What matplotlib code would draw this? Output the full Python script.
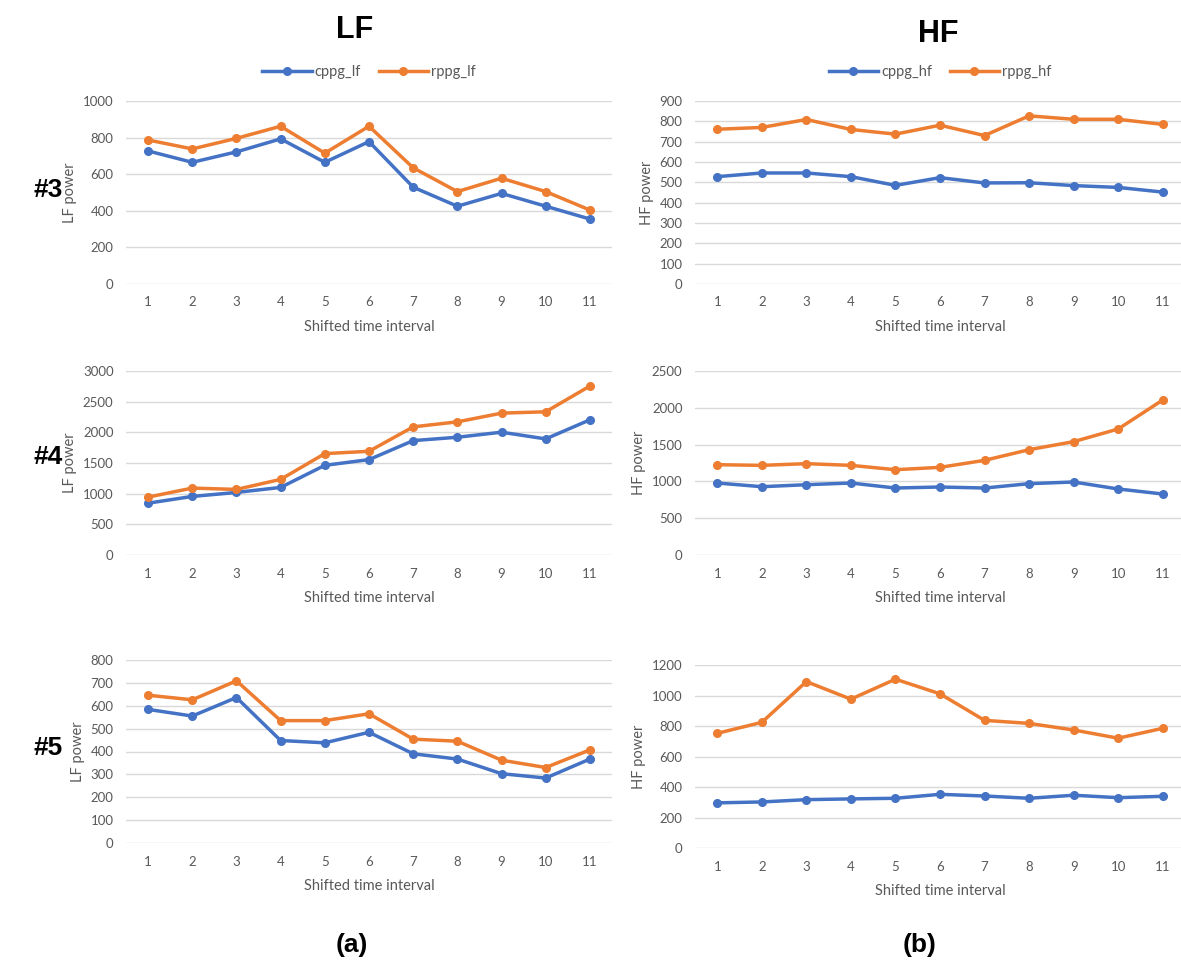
import matplotlib
matplotlib.use("Agg")
import matplotlib.pyplot as plt

# shifted time interval index
intervals = list(range(1, 12))

# subject #3
cppg_lf_3 = [727, 665, 722, 793, 665, 778, 529, 425, 495, 425, 355]
rppg_lf_3 = [787, 738, 796, 862, 715, 862, 635, 505, 578, 505, 404]
cppg_hf_3 = [528, 546, 546, 528, 485, 523, 497, 498, 484, 475, 452]
rppg_hf_3 = [761, 770, 809, 760, 737, 781, 730, 827, 810, 810, 785]

# subject #4
cppg_lf_4 = [845, 955, 1020, 1102, 1462, 1555, 1865, 1920, 2002, 1893, 2204]
rppg_lf_4 = [944, 1091, 1069, 1233, 1653, 1691, 2089, 2171, 2313, 2335, 2755]
cppg_hf_4 = [978, 928, 955, 978, 910, 924, 910, 969, 992, 897, 829]
rppg_hf_4 = [1227, 1218, 1241, 1218, 1159, 1191, 1286, 1431, 1540, 1712, 2106]

# subject #5
cppg_lf_5 = [584, 555, 636, 448, 438, 484, 390, 367, 303, 284, 367]
rppg_lf_5 = [646, 626, 709, 535, 535, 565, 454, 445, 362, 330, 407]
cppg_hf_5 = [296, 302, 317, 322, 326, 352, 341, 326, 346, 330, 339]
rppg_hf_5 = [752, 824, 1091, 976, 1107, 1011, 837, 817, 774, 720, 785]

BLUE = "#4472C4"
ORANGE = "#ED7D31"
W, H = 1181, 972

plt.rcParams['font.family'] = ['Lato', 'DejaVu Sans']

fig = plt.figure(figsize=(W / 100, H / 100), dpi=100)


def px_axes(x0, y_top, x1, y_bot):
    # axes from pixel box (origin top-left)
    return fig.add_axes([x0 / W, 1 - y_bot / H, (x1 - x0) / W, (y_bot - y_top) / H])


def panel(ax, cppg, rppg, ymax, step, ylabel, names=None):
    l1, = ax.plot(intervals, cppg, color=BLUE, lw=2.5, marker='o', ms=5.5)
    l2, = ax.plot(intervals, rppg, color=ORANGE, lw=2.5, marker='o', ms=5.5)
    ax.set_xlim(0.5, 11.5)
    ax.set_ylim(0, ymax)
    ax.set_xticks(intervals)
    ax.set_yticks(range(0, ymax + 1, step))
    ax.grid(axis='y', color='#D9D9D9', lw=1)
    ax.set_axisbelow(True)
    for s in ax.spines.values():
        s.set_visible(False)
    ax.tick_params(length=0, labelsize=9.5, colors='#595959', pad=9)
    ax.set_xlabel("Shifted time interval", fontsize=10.5, color='#595959', labelpad=8)
    ax.set_ylabel(ylabel, fontsize=10.5, color='#595959', labelpad=4)
    for l in (l1, l2):
        l.set_clip_on(False)
    if names:
        ax.legend([l1, l2], names, loc='lower center', bbox_to_anchor=(0.5, 1.05),
                  ncol=2, frameon=False, fontsize=10.5, handlelength=3.4,
                  columnspacing=1.2, handletextpad=0.2, labelcolor='#595959')


ax = px_axes(126, 101, 612, 284)
panel(ax, cppg_lf_3, rppg_lf_3, 1000, 200, "LF power", ["cppg_lf", "rppg_lf"])
ax = px_axes(695, 101, 1185, 284)
panel(ax, cppg_hf_3, rppg_hf_3, 900, 100, "HF power", ["cppg_hf", "rppg_hf"])

ax = px_axes(126, 371, 612, 555)
panel(ax, cppg_lf_4, rppg_lf_4, 3000, 500, "LF power")
ax = px_axes(695, 371, 1185, 555)
panel(ax, cppg_hf_4, rppg_hf_4, 2500, 500, "HF power")

ax = px_axes(126, 660, 612, 843)
panel(ax, cppg_lf_5, rppg_lf_5, 800, 100, "LF power")
ax = px_axes(695, 665, 1185, 848)
panel(ax, cppg_hf_5, rppg_hf_5, 1200, 200, "HF power")

bold = dict(family='Liberation Sans', fontweight='bold', ha='center', va='center')
fig.text(355 / W, 1 - 30 / H, "LF", fontsize=22, **bold)
fig.text(938 / W, 1 - 34 / H, "HF", fontsize=22, **bold)
fig.text(48 / W, 1 - 190 / H, "#3", fontsize=19, **bold)
fig.text(48 / W, 1 - 457 / H, "#4", fontsize=19, **bold)
fig.text(48 / W, 1 - 748 / H, "#5", fontsize=19, **bold)
fig.text(352 / W, 1 - 945 / H, "(a)", fontsize=19, **bold)
fig.text(920 / W, 1 - 945 / H, "(b)", fontsize=19, **bold)

fig.savefig("out.png", dpi=100)
